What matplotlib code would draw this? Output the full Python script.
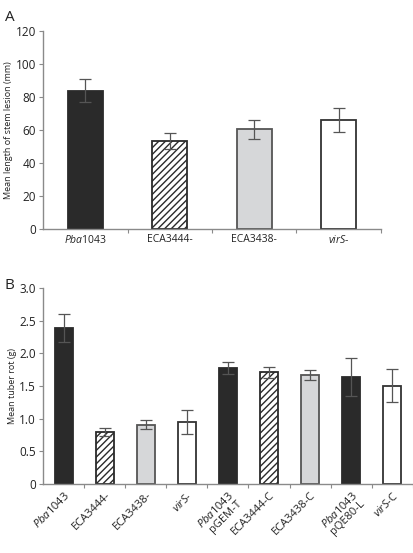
import numpy as np
import matplotlib
matplotlib.use("Agg")
import matplotlib.pyplot as plt
from matplotlib.ticker import FixedLocator, FixedFormatter

plt.rcParams['font.family'] = ['Open Sans', 'DejaVu Sans']
plt.rcParams['mathtext.fontset'] = 'custom'
plt.rcParams['mathtext.it'] = 'Open Sans:italic'
plt.rcParams['mathtext.rm'] = 'Open Sans'
plt.rcParams['hatch.linewidth'] = 1.0

# panel A - stem lesion
a_labels = [r"$\it{Pba}$1043", "ECA3444-", "ECA3438-", r"$\it{virS}$-"]
a_values = [83.7, 53.3, 60.2, 65.9]
a_errors = [7.1, 5.0, 5.6, 7.0]

# panel B - tuber rot
b_labels = [r"$\it{Pba}$1043", "ECA3444-", "ECA3438-", r"$\it{virS}$-",
            r"$\it{Pba}$1043" + "\npGEM-T", "ECA3444-C", "ECA3438-C",
            r"$\it{Pba}$1043" + "\npQE80-L", r"$\it{virS}$-C"]
b_values = [2.39, 0.80, 0.91, 0.95, 1.78, 1.71, 1.67, 1.64, 1.505]
b_errors = [0.21, 0.065, 0.075, 0.18, 0.09, 0.09, 0.075, 0.29, 0.255]

# strain style: 0 wild type, 1 ECA3444, 2 ECA3438, 3 virS
a_kind = [0, 1, 2, 3]
b_kind = [0, 1, 2, 3, 0, 1, 2, 0, 3]

FILL = {0: '#2a2a2a', 1: 'white', 2: '#d6d7d9', 3: 'white'}
EDGE = {0: '#2a2a2a', 1: '#2a2a2a', 2: '#555555', 3: '#333333'}
HATCH = {0: None, 1: '/////', 2: None, 3: None}
SPINE = '#8a8a8a'
TXT = '#222222'


def draw_bars(ax, values, errors, kinds, width):
    x = np.arange(len(values))
    for i, (v, e, k) in enumerate(zip(values, errors, kinds)):
        ax.bar(x[i], v, width=width, color=FILL[k], edgecolor=EDGE[k],
               hatch=HATCH[k], linewidth=1.3, zorder=2)
        ax.errorbar(x[i], v, yerr=e, ecolor='#555555', elinewidth=0.9,
                    capsize=4, capthick=0.9, fmt='none', zorder=3)
    for s in ['top', 'right']:
        ax.spines[s].set_visible(False)
    for s in ['left', 'bottom']:
        ax.spines[s].set_color(SPINE)
        ax.spines[s].set_linewidth(1.0)
    ax.set_xlim(-0.5, len(values) - 0.5)
    ax.xaxis.set_major_locator(FixedLocator(x))
    ax.xaxis.set_minor_locator(FixedLocator(np.arange(len(values)) + 0.5))
    ax.tick_params(axis='x', which='major', length=0, pad=4)
    ax.tick_params(axis='x', which='minor', length=3, color=SPINE, width=0.8)
    ax.tick_params(axis='y', length=3, color=SPINE, width=0.8, pad=2,
                   labelsize=8.5, labelcolor=TXT)


fig = plt.figure(figsize=(4.14, 5.53), dpi=100)

axA = fig.add_axes([0.104, 0.5864, 0.816, 0.358])
draw_bars(axA, a_values, a_errors, a_kind, 0.41)
axA.set_ylim(0, 120)
axA.set_yticks([0, 20, 40, 60, 80, 100, 120])
axA.set_xticklabels(a_labels, fontsize=7.5, color=TXT)
axA.set_ylabel("Mean length of stem lesion (mm)", fontsize=6.5, color=TXT, labelpad=2)
fig.text(0.012, 0.982, "A", fontsize=11, color=TXT, va='top', ha='left')

axB = fig.add_axes([0.104, 0.1248, 0.893, 0.354])
draw_bars(axB, b_values, b_errors, b_kind, 0.44)
axB.set_ylim(0, 3.0)
b_ticks = [0, 0.5, 1.0, 1.5, 2.0, 2.5, 3.0]
axB.yaxis.set_major_locator(FixedLocator(b_ticks))
axB.yaxis.set_major_formatter(FixedFormatter(["0", "0.5", "1.0", "1.5", "2.0", "2.5", "3.0"]))
axB.set_xticklabels(b_labels, fontsize=8, color=TXT, rotation=45,
                    ha='right', va='top', rotation_mode='anchor', linespacing=1.0)
axB.set_ylabel("Mean tuber rot (g)", fontsize=6.5, color=TXT, labelpad=2)
fig.text(0.012, 0.497, "B", fontsize=11, color=TXT, va='top', ha='left')

fig.savefig("out.png", dpi=100)
